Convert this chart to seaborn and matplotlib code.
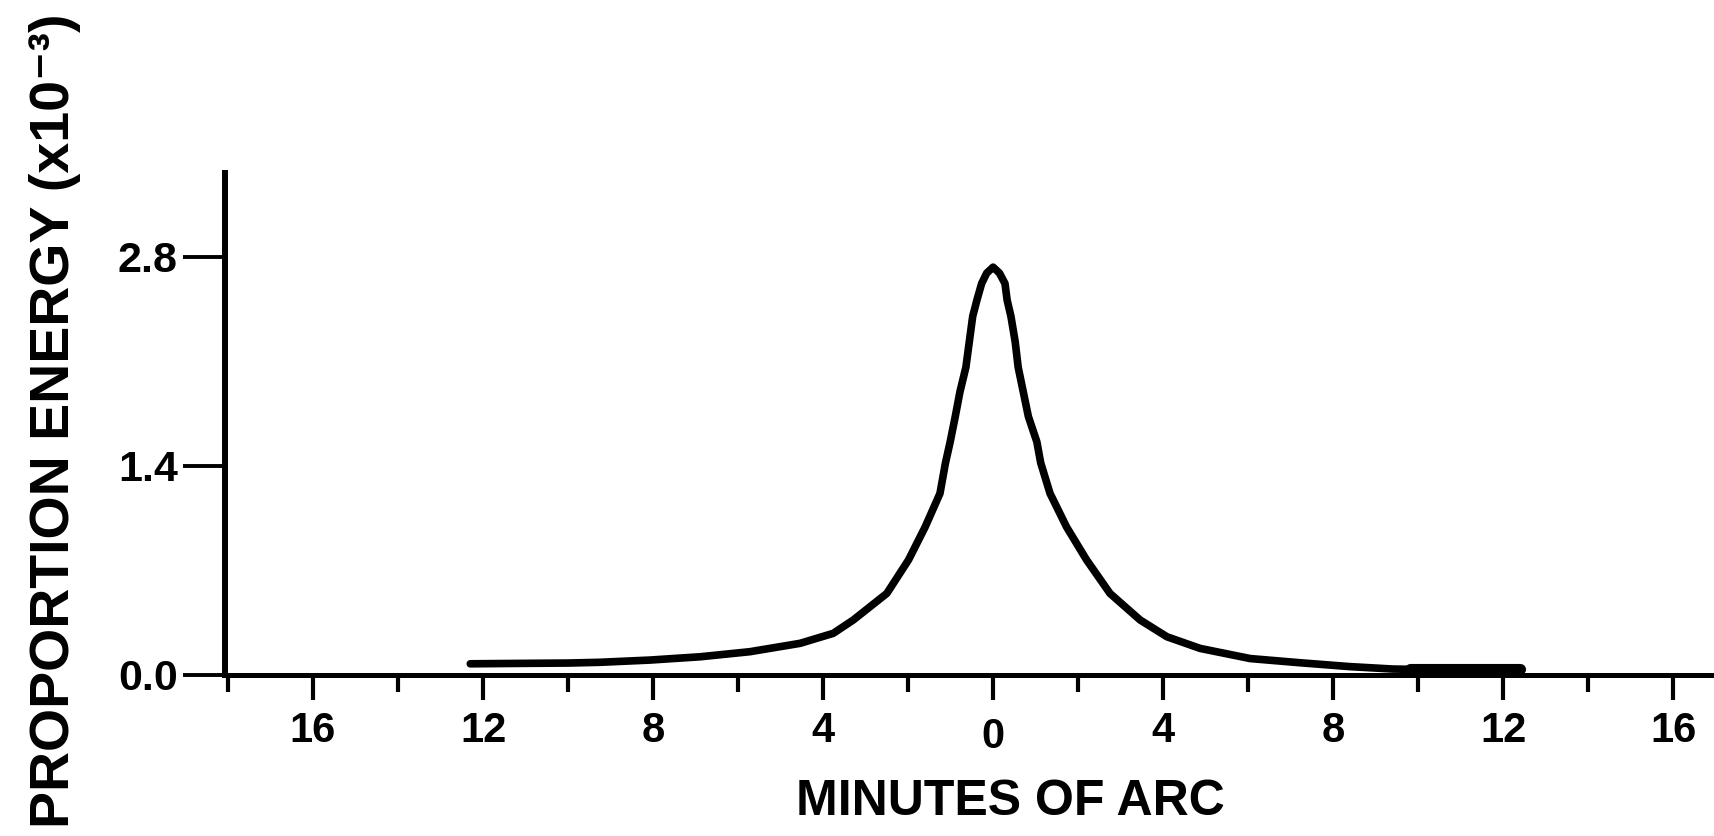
import matplotlib
matplotlib.use("Agg")
import matplotlib.pyplot as plt
import seaborn as sns
import pandas as pd

# energy profile (minutes of arc, x10^-3)
arc_minutes = [-12.3, -11.0, -10.0, -9.25, -8.07, -6.89, -5.72, -4.54, -3.76, -3.29,
               -2.5, -1.99, -1.6, -1.25, -1.12, -1.01, -0.89, -0.78, -0.64, -0.56,
               -0.48, -0.38, -0.27, -0.15, 0.0,
               0.15, 0.28, 0.33, 0.42, 0.52, 0.59, 0.71, 0.83, 1.03, 1.12,
               1.34, 1.73, 2.2, 2.75, 3.46, 4.09, 4.87, 6.05, 7.22, 8.4,
               9.4, 10.5, 12.4]
energy = [0.075, 0.078, 0.08, 0.085, 0.10, 0.122, 0.156, 0.212, 0.279, 0.368,
          0.546, 0.77, 0.99, 1.215, 1.42, 1.56, 1.73, 1.895, 2.06, 2.23,
          2.40, 2.51, 2.62, 2.69, 2.73,
          2.69, 2.62, 2.51, 2.40, 2.23, 2.06, 1.895, 1.73, 1.56, 1.42,
          1.215, 0.99, 0.77, 0.546, 0.368, 0.256, 0.178, 0.11, 0.082, 0.056,
          0.04, 0.035, 0.035]

# thick smudge at the right end of the trace
smudge_x = [9.8, 12.4]
smudge_y = [0.04, 0.04]

y_ticks = [0.0, 1.4, 2.8]
y_tick_labels = ["0.0", "1.4", "2.8"]
x_ticks = [-16, -12, -8, -4, 0, 4, 8, 12, 16]
x_tick_labels = ["16", "12", "8", "4", "0", "4", "8", "12", "16"]
x_minor = [-18, -14, -10, -6, -2, 2, 6, 10, 14]

df = pd.DataFrame({"arc": arc_minutes, "energy": energy})
smudge = pd.DataFrame({"arc": smudge_x, "energy": smudge_y})

sns.set_theme(style="ticks")
plt.rcParams["font.family"] = ["Liberation Sans", "DejaVu Sans"]
plt.rcParams["font.weight"] = "bold"

W, H = 1714, 836
fig = plt.figure(figsize=(W / 100, H / 100), dpi=100)
ax = fig.add_axes([225 / W, 1 - 675 / H, 1 - 225 / W, (675 - 173) / H])

sns.lineplot(data=df, x="arc", y="energy", sort=False, estimator=None,
             color="black", linewidth=5.5, solid_joinstyle="round", ax=ax)
sns.lineplot(data=smudge, x="arc", y="energy", sort=False, estimator=None,
             color="black", linewidth=8, ax=ax)

ax.set_xlim(-18.07, 16.96)
ax.set_ylim(0, 3.36)

ax.spines["top"].set_visible(False)
ax.spines["right"].set_visible(False)
ax.spines["left"].set_linewidth(4.3)
ax.spines["bottom"].set_linewidth(3.6)
ax.spines["left"].set_color("black")
ax.spines["bottom"].set_color("black")

ax.set_yticks(y_ticks)
ax.set_yticklabels(y_tick_labels, fontweight="bold")
ax.set_xticks(x_ticks)
ax.set_xticklabels(x_tick_labels, fontweight="bold")
ax.set_xticks(x_minor, minor=True)

ax.tick_params(axis="y", direction="out", length=30, width=2.8, pad=4,
               labelsize=31, color="black", labelcolor="black")
ax.tick_params(axis="x", which="major", direction="out", length=18, width=3,
               pad=8, labelsize=30, color="black", labelcolor="black")
ax.tick_params(axis="x", which="minor", direction="out", length=12, width=3,
               color="black")

# the zero tick is drawn longer than the others, its label sits lower
zero_tick = ax.xaxis.get_major_ticks()[x_ticks.index(0)]
zero_tick.tick1line.set_markersize(25)
zero_tick.set_pad(12)

ax.set_xlabel("MINUTES OF ARC", fontsize=36, fontweight="bold", color="black",
              labelpad=16)
ax.xaxis.label.set_x((1010 - 225) / (1714 - 225))
ax.set_ylabel("")
ax.grid(False)

fig.text(55 / W, 1 - 14 / H, "PROPORTION ENERGY (x10⁻³)", rotation=90,
         ha="center", va="top", fontsize=40, fontweight="bold", color="black")

fig.savefig("out.png", dpi=100, facecolor="white")
